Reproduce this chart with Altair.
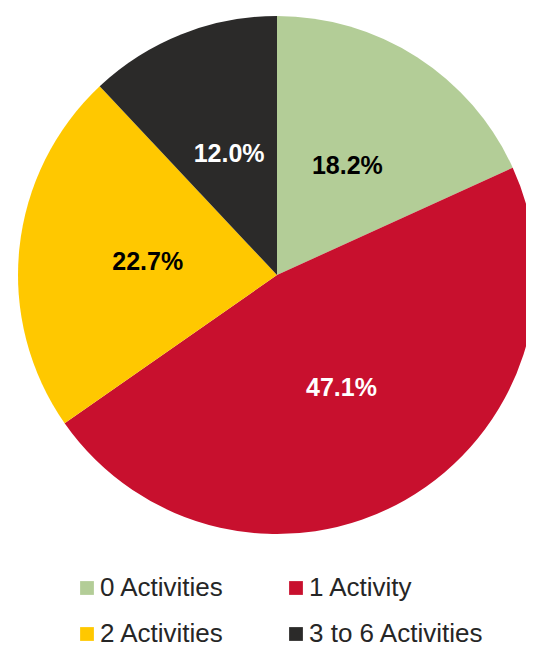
import altair as alt
import pandas as pd

categories = ["0 Activities", "1 Activity", "2 Activities", "3 to 6 Activities"]
values = [18.2, 47.1, 22.7, 12.0]
labels = ["18.2%", "47.1%", "22.7%", "12.0%"]
colors = ["#B3CD97", "#C8102E", "#FFC800", "#2B2A29"]
label_colors = ["#000000", "#FFFFFF", "#000000", "#FFFFFF"]

# legend is filled column by column, so list entries in column-major order
legend_order = [0, 2, 1, 3]
legend_domain = [categories[i] for i in legend_order]
legend_range = [colors[i] for i in legend_order]

df = pd.DataFrame({
    "category": categories,
    "value": values,
    "label": labels,
    "labelColor": label_colors,
    "order": list(range(len(categories))),
})

cx, cy, R = 269, 267, 259

base = alt.Chart(df).encode(
    theta=alt.Theta("value:Q", stack=True),
    order=alt.Order("order:Q"),
    x=alt.value(cx),
    y=alt.value(cy),
)

pie = base.mark_arc(outerRadius=R, stroke=None).encode(
    color=alt.Color(
        "category:N",
        scale=alt.Scale(domain=legend_domain, range=legend_range),
        legend=alt.Legend(
            title=None,
            orient="none",
            legendX=66,
            legendY=567,
            columns=2,
            columnPadding=58,
            rowPadding=20,
            symbolType="square",
            symbolSize=190,
            symbolStrokeWidth=0,
            labelFont="Liberation Sans",
            labelFontSize=26,
            labelColor="#262626",
            labelOffset=0,
            labelLimit=400,
            padding=0,
        ),
    )
)

text = base.mark_text(
    radius=130, font="Liberation Sans", fontSize=25, fontWeight="bold"
).encode(
    text="label:N",
    color=alt.Color("labelColor:N", scale=None),
)

chart = (pie + text).properties(
    width=518,
    height=640,
    padding=0,
    autosize=alt.AutoSizeParams(type="none"),
).configure_view(stroke=None)

chart.save("out.html", embed_options={"renderer": "svg", "actions": False})
